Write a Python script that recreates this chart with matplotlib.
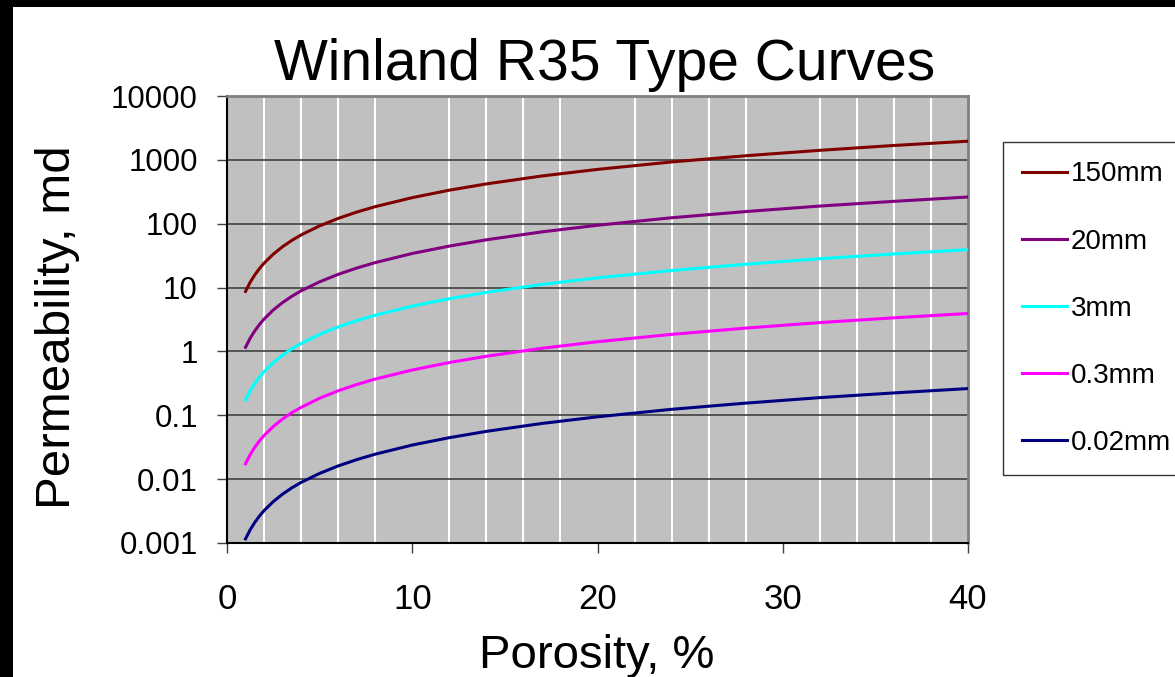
import numpy as np
import matplotlib
matplotlib.use('Agg')
import matplotlib.pyplot as plt
from matplotlib.patches import Rectangle
from matplotlib.ticker import FixedLocator, MultipleLocator, FuncFormatter

plt.rcParams['font.family'] = ['Liberation Sans', 'DejaVu Sans']

# porosity, %
porosity = [1, 1.25, 1.5, 1.75, 2, 2.5, 3, 3.5, 4, 5, 6, 7, 8, 10, 12, 14, 17, 20, 24, 28, 32, 36, 40]

# permeability, md for each pore throat radius
k_150 = [8.7, 12.1, 15.8, 19.8, 24.1, 33.4, 43.7, 54.8, 66.7, 92.6, 121, 152, 185, 256, 335, 420,
         559, 709, 927, 1160, 1410, 1680, 1960]
k_20 = [1.16, 1.61, 2.10, 2.64, 3.21, 4.46, 5.83, 7.31, 8.89, 12.3, 16.1, 20.2, 24.6, 34.2, 44.6,
        56.0, 74.5, 94.6, 124, 155, 189, 224, 262]
k_3 = [0.174, 0.242, 0.316, 0.396, 0.482, 0.669, 0.874, 1.10, 1.33, 1.85, 2.42, 3.03, 3.69, 5.12,
       6.70, 8.40, 11.2, 14.2, 18.5, 23.2, 28.3, 33.6, 39.3]
k_03 = [0.0174, 0.0242, 0.0316, 0.0396, 0.0482, 0.0669, 0.0874, 0.110, 0.133, 0.185, 0.242, 0.303,
        0.369, 0.512, 0.670, 0.840, 1.12, 1.42, 1.85, 2.32, 2.83, 3.36, 3.93]
k_002 = [0.00116, 0.00161, 0.00210, 0.00264, 0.00321, 0.00446, 0.00583, 0.00731, 0.00889, 0.0123,
         0.0161, 0.0202, 0.0246, 0.0342, 0.0446, 0.0560, 0.0745, 0.0946, 0.124, 0.155, 0.189,
         0.224, 0.262]

labels = ['150mm', '20mm', '3mm', '0.3mm', '0.02mm']
colors = ['#800000', '#800080', '#00FFFF', '#FF00FF', '#000080']
series = [k_150, k_20, k_3, k_03, k_002]

W, H = 1175, 677
fig = plt.figure(figsize=(W / 100, H / 100), dpi=100)
fig.patch.set_facecolor('white')
# black frame strips at top and left
fig.patches.append(Rectangle((0, 1 - 7 / H), 1, 7 / H, transform=fig.transFigure,
                             facecolor='black', edgecolor='none', zorder=0))
fig.patches.append(Rectangle((0, 0), 13 / W, 1, transform=fig.transFigure,
                             facecolor='black', edgecolor='none', zorder=0))

ax = fig.add_axes([227 / W, 1 - 543 / H, (968 - 227) / W, (543 - 96) / H])
ax.set_facecolor('#C0C0C0')

for y, lab, c in zip(series, labels, colors):
    ax.plot(porosity, y, color=c, lw=2.2, label=lab, zorder=3)

ax.set_yscale('log')
ax.set_xlim(0, 40)
ax.set_ylim(0.001, 10000)

ax.xaxis.set_major_locator(MultipleLocator(10))
ax.xaxis.set_minor_locator(MultipleLocator(2))
ax.yaxis.set_major_locator(FixedLocator([0.001, 0.01, 0.1, 1, 10, 100, 1000, 10000]))
ax.yaxis.set_minor_locator(FixedLocator([]))
ax.yaxis.set_major_formatter(FuncFormatter(lambda v, p: '%g' % v))

ax.grid(True, axis='x', which='minor', color='white', lw=1.5, zorder=1)
ax.grid(True, axis='y', which='major', color='#404040', lw=1.2, zorder=1)
ax.set_axisbelow(True)

ax.tick_params(axis='x', which='major', direction='out', length=7, width=1, color='#404040',
               labelsize=25, pad=22)
ax.tick_params(axis='x', which='minor', length=0)
ax.tick_params(axis='y', which='major', direction='out', length=7, width=1, color='#404040',
               labelsize=22.5, pad=14)

for s in ['top', 'right']:
    ax.spines[s].set_color('#808080')
    ax.spines[s].set_linewidth(2)
for s in ['left', 'bottom']:
    ax.spines[s].set_color('black')
    ax.spines[s].set_linewidth(1.5)

fig.text(605 / W, 1 - 80 / H, 'Winland R35 Type Curves', fontsize=41, ha='center', va='baseline')
fig.text(597 / W, 1 - 668 / H, 'Porosity, %', fontsize=34, ha='center', va='baseline')
fig.text(70 / W, 1 - 327 / H, 'Permeability, md', fontsize=35.5, rotation=90,
         ha='center', va='baseline', rotation_mode='anchor')

leg = fig.legend(loc='upper left', bbox_to_anchor=(1003 / W, 1 - 142 / H), fontsize=20,
                 frameon=True, fancybox=False, shadow=False, edgecolor='black',
                 borderpad=0.7, labelspacing=1.48, handlelength=1.6,
                 handletextpad=0.15, borderaxespad=0)
leg.get_frame().set_linewidth(1)

fig.savefig('out.png', dpi=100)
